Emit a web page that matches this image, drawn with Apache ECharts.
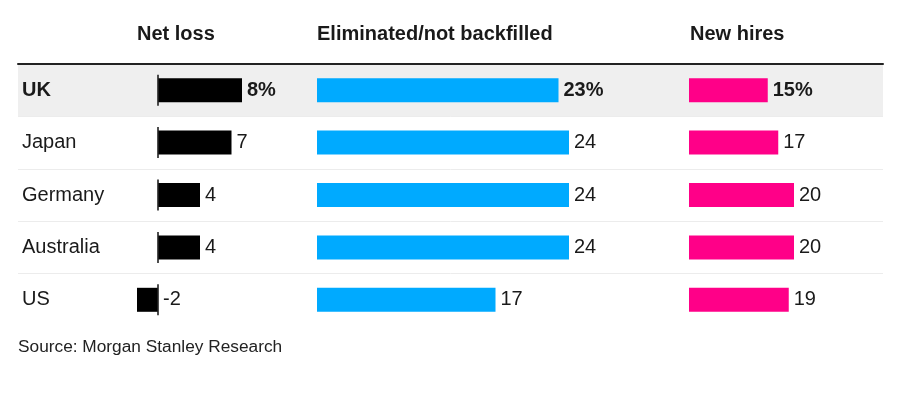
<!DOCTYPE html>
<html>
<head>
<meta charset="utf-8">
<script src="https://cdn.jsdelivr.net/npm/echarts@6/dist/echarts.min.js"></script>
<style>
html,body{margin:0;padding:0;background:#fff;}
#c{width:900px;height:394px;}
</style>
</head>
<body>
<div id="c"></div>
<script>
const countries = ['UK', 'Japan', 'Germany', 'Australia', 'US'];
const netLoss = [8, 7, 4, 4, -2];
const eliminated = [23, 24, 24, 24, 17];
const newHires = [15, 17, 20, 20, 19];
const zeroBaseline = [0, 0, 0, 0, 0];
const headers = ['Net loss', 'Eliminated/not backfilled', 'New hires'];
const source = 'Source: Morgan Stanley Research';

const FONT = "'Liberation Sans', Arial, sans-serif";
const TXT = '#1a1a1a';
const TOP = 64, HEIGHT = 262;

const chart = echarts.init(document.getElementById('c'), null, {renderer: 'canvas'});

function valueLabel() {
  return {
    show: true,
    position: 'right',
    distance: 5,
    color: TXT,
    fontFamily: FONT,
    fontSize: 20,
    formatter: p => p.dataIndex === 0 ? '{b|' + p.value + '%}' : String(p.value),
    rich: {b: {fontWeight: 'bold', fontSize: 20, color: TXT, fontFamily: FONT}}
  };
}

const hiddenCat = (gi) => ({
  type: 'category', gridIndex: gi, data: countries, inverse: true, show: false
});

const option = {
  animation: false,
  backgroundColor: '#fff',
  grid: [
    {left: 18, right: 17, top: TOP, height: HEIGHT},          // background rows
    {left: 137, width: 105, top: TOP, height: HEIGHT},        // net loss
    {left: 317, width: 252, top: TOP, height: HEIGHT},        // eliminated
    {left: 689, width: 105, top: TOP, height: HEIGHT}         // new hires
  ],
  xAxis: [
    {type: 'value', gridIndex: 0, position: 'top', min: 0, max: 1,
     axisLine: {show: true, onZero: false, lineStyle: {color: '#222', width: 2}},
     axisTick: {show: false}, axisLabel: {show: false}, splitLine: {show: false}},
    {type: 'value', gridIndex: 1, min: -2, max: 8, show: false},
    {type: 'value', gridIndex: 2, min: 0, max: 24, show: false},
    {type: 'value', gridIndex: 3, min: 0, max: 20, show: false}
  ],
  yAxis: [
    {type: 'category', gridIndex: 0, data: countries, inverse: true,
     axisLine: {show: false}, axisTick: {show: false},
     axisLabel: {
       inside: true, margin: 4, interval: 0,
       color: TXT, fontFamily: FONT, fontSize: 20,
       formatter: (v, i) => i === 0 ? '{b|' + v + '}' : v,
       rich: {b: {fontWeight: 'bold', fontSize: 20, color: TXT, fontFamily: FONT}}
     },
     splitLine: {show: true, interval: 0,
       lineStyle: {color: ['transparent', '#ececec', '#ececec', '#ececec', '#ececec', 'transparent'], width: 1}},
     splitArea: {show: true, interval: 0,
       areaStyle: {color: ['#efefef', 'rgba(0,0,0,0)', 'rgba(0,0,0,0)', 'rgba(0,0,0,0)', 'rgba(0,0,0,0)']}}
    },
    hiddenCat(1), hiddenCat(2), hiddenCat(3)
  ],
  series: [
    {type: 'bar', xAxisIndex: 1, yAxisIndex: 1, data: netLoss, barWidth: 24,
     itemStyle: {color: '#000'}, label: valueLabel()},
    {type: 'scatter', xAxisIndex: 1, yAxisIndex: 1, data: zeroBaseline,
     symbol: 'rect', symbolSize: [2, 31], itemStyle: {color: '#222'}, z: 5, silent: true},
    {type: 'bar', xAxisIndex: 2, yAxisIndex: 2, data: eliminated, barWidth: 24,
     itemStyle: {color: '#00aaff'}, label: valueLabel()},
    {type: 'bar', xAxisIndex: 3, yAxisIndex: 3, data: newHires, barWidth: 24,
     itemStyle: {color: '#ff0088'}, label: valueLabel()}
  ],
  graphic: [
    {type: 'text', left: 137, top: 24, style: {text: headers[0], font: 'bold 20px ' + FONT, fill: TXT}},
    {type: 'text', left: 317, top: 24, style: {text: headers[1], font: 'bold 20px ' + FONT, fill: TXT}},
    {type: 'text', left: 690, top: 24, style: {text: headers[2], font: 'bold 20px ' + FONT, fill: TXT}},
    {type: 'text', left: 18, top: 339, style: {text: source, font: '17.3px ' + FONT, fill: '#222'}}
  ]
};
chart.setOption(option);
</script>
</body>
</html>
